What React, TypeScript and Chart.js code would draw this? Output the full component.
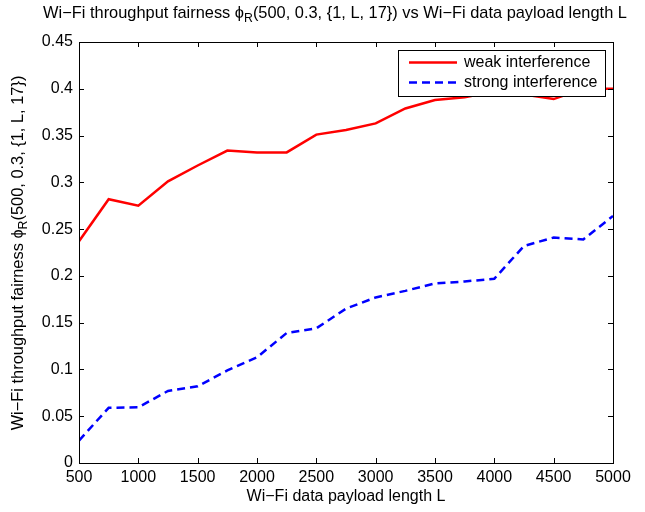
import React, { useEffect, useRef } from "react";
import { Chart, registerables } from "chart.js";

Chart.register(...registerables);

const payloadLengths = [500, 750, 1000, 1250, 1500, 1750, 2000, 2250, 2500, 2750, 3000, 3250, 3500, 3750, 4000, 4250, 4500, 4750, 5000];
const weakInterference = [0.237, 0.282, 0.275, 0.301, 0.318, 0.334, 0.332, 0.332, 0.351, 0.356, 0.363, 0.379, 0.388, 0.391, 0.397, 0.394, 0.389, 0.4, 0.4];
const strongInterference = [0.024, 0.059, 0.0595, 0.077, 0.082, 0.099, 0.113, 0.139, 0.144, 0.165, 0.177, 0.184, 0.192, 0.194, 0.197, 0.232, 0.241, 0.239, 0.264];
const xTickValues = [500, 1000, 1500, 2000, 2500, 3000, 3500, 4000, 4500, 5000];
const yTickValues = [0, 0.05, 0.1, 0.15, 0.2, 0.25, 0.3, 0.35, 0.4, 0.45];
const seriesLabels = ["weak interference", "strong interference"];
const titleParts = ["Wi\u2212Fi throughput fairness \u03d5", "R", "(500, 0.3, {1, L, 17}) vs Wi\u2212Fi data payload length L"];
const yTitleParts = ["Wi\u2212Fi throughput fairness \u03d5", "R", "(500, 0.3, {1, L, 17})"];
const xTitle = "Wi\u2212Fi data payload length L";

const FONT = '"Liberation Sans", Arial, sans-serif';
const FS = 16;

function drawSubText(ctx: CanvasRenderingContext2D, parts: string[], x: number, y: number, size: number) {
  ctx.font = `${size}px ${FONT}`;
  const w1 = ctx.measureText(parts[0]).width;
  ctx.font = `${size * 0.75}px ${FONT}`;
  const w2 = ctx.measureText(parts[1]).width;
  ctx.font = `${size}px ${FONT}`;
  const w3 = ctx.measureText(parts[2]).width;
  const total = w1 + w2 + w3;
  let cx = x - total / 2;
  ctx.textAlign = "left";
  ctx.textBaseline = "middle";
  ctx.fillText(parts[0], cx, y);
  cx += w1;
  ctx.font = `${size * 0.75}px ${FONT}`;
  ctx.fillText(parts[1], cx, y + size * 0.35);
  cx += w2;
  ctx.font = `${size}px ${FONT}`;
  ctx.fillText(parts[2], cx, y);
}

const decorPlugin = {
  id: "matlabDecor",
  afterDatasetsDraw(chart: any) {
    const { ctx, chartArea } = chart;
    const { left, right, top, bottom } = chartArea;
    const xs = chart.scales.x;
    const ys = chart.scales.y;
    ctx.save();
    ctx.strokeStyle = "#000";
    ctx.lineWidth = 1;
    ctx.strokeRect(Math.round(left) + 0.5, Math.round(top) + 0.5, Math.round(right - left), Math.round(bottom - top));
    const tl = 5;
    ctx.beginPath();
    xTickValues.forEach((v) => {
      const px = Math.round(xs.getPixelForValue(v)) + 0.5;
      ctx.moveTo(px, bottom);
      ctx.lineTo(px, bottom - tl);
      ctx.moveTo(px, top);
      ctx.lineTo(px, top + tl);
    });
    yTickValues.forEach((v) => {
      const py = Math.round(ys.getPixelForValue(v)) + 0.5;
      ctx.moveTo(left, py);
      ctx.lineTo(left + tl, py);
      ctx.moveTo(right, py);
      ctx.lineTo(right - tl, py);
    });
    ctx.stroke();

    const lx = 398, ly = 50, lw = 207, lh = 46;
    ctx.fillStyle = "#fff";
    ctx.fillRect(lx, ly, lw, lh);
    ctx.strokeStyle = "#000";
    ctx.lineWidth = 1;
    ctx.strokeRect(lx + 0.5, ly + 0.5, lw, lh);
    const rows = [
      { y: 62.5, color: "#ff0000", dash: [] as number[] },
      { y: 82.5, color: "#0000ff", dash: [8, 5] },
    ];
    rows.forEach((r, i) => {
      ctx.beginPath();
      ctx.setLineDash(r.dash);
      ctx.strokeStyle = r.color;
      ctx.lineWidth = 2.5;
      ctx.moveTo(409, r.y);
      ctx.lineTo(457, r.y);
      ctx.stroke();
      ctx.setLineDash([]);
      ctx.fillStyle = "#000";
      ctx.font = `${FS}px ${FONT}`;
      ctx.textAlign = "left";
      ctx.textBaseline = "middle";
      ctx.fillText(seriesLabels[i], 464, r.y);
    });

    ctx.fillStyle = "#000";
    drawSubText(ctx, titleParts, 335, 13, FS + 0.4);
    ctx.font = `${FS}px ${FONT}`;
    ctx.textAlign = "center";
    ctx.textBaseline = "middle";
    ctx.fillText(xTitle, (left + right) / 2, 497);
    ctx.translate(18, 253);
    ctx.rotate(-Math.PI / 2);
    drawSubText(ctx, yTitleParts, 0, 0, FS + 0.4);
    ctx.restore();
  },
};

export default function App() {
  const ref = useRef<HTMLCanvasElement | null>(null);
  useEffect(() => {
    if (!ref.current) return;
    Chart.defaults.font.family = FONT;
    const chart = new Chart(ref.current, {
      type: "line",
      data: {
        labels: payloadLengths,
        datasets: [
          {
            label: seriesLabels[0],
            data: payloadLengths.map((x, i) => ({ x, y: weakInterference[i] })),
            borderColor: "#ff0000",
            borderWidth: 2.5,
            pointRadius: 0,
            tension: 0,
            fill: false,
          },
          {
            label: seriesLabels[1],
            data: payloadLengths.map((x, i) => ({ x, y: strongInterference[i] })),
            borderColor: "#0000ff",
            borderWidth: 2.5,
            borderDash: [8, 5],
            pointRadius: 0,
            tension: 0,
            fill: false,
          },
        ],
      },
      options: {
        animation: false,
        responsive: false,
        maintainAspectRatio: false,
        layout: { padding: { left: 0, right: 32, top: 42, bottom: 0 } },
        plugins: { legend: { display: false }, title: { display: false }, tooltip: { enabled: false } },
        scales: {
          x: {
            type: "linear",
            min: 500,
            max: 5000,
            grid: { display: false, drawTicks: false },
            border: { display: false },
            afterBuildTicks: (s: any) => {
              s.ticks = xTickValues.map((v) => ({ value: v }));
            },
            afterFit: (s: any) => {
              s.height = 49;
            },
            ticks: {
              color: "#000",
              font: { size: FS },
              padding: 5,
              maxRotation: 0,
              autoSkip: false,
              callback: (v: any) => String(v),
            },
          },
          y: {
            type: "linear",
            min: 0,
            max: 0.45,
            grid: { display: false, drawTicks: false },
            border: { display: false },
            afterBuildTicks: (s: any) => {
              s.ticks = yTickValues.map((v) => ({ value: v }));
            },
            afterFit: (s: any) => {
              s.width = 79;
            },
            ticks: {
              color: "#000",
              font: { size: FS },
              padding: 6,
              autoSkip: false,
              callback: (v: any) => String(Number(Number(v).toFixed(2))),
            },
          },
        },
      },
      plugins: [decorPlugin],
    });
    return () => chart.destroy();
  }, []);
  return (
    <div style={{ position: "fixed", left: 0, top: 0, width: 645, height: 512, background: "#fff" }}>
      <canvas ref={ref} width={645} height={512} style={{ width: 645, height: 512 }} />
    </div>
  );
}
